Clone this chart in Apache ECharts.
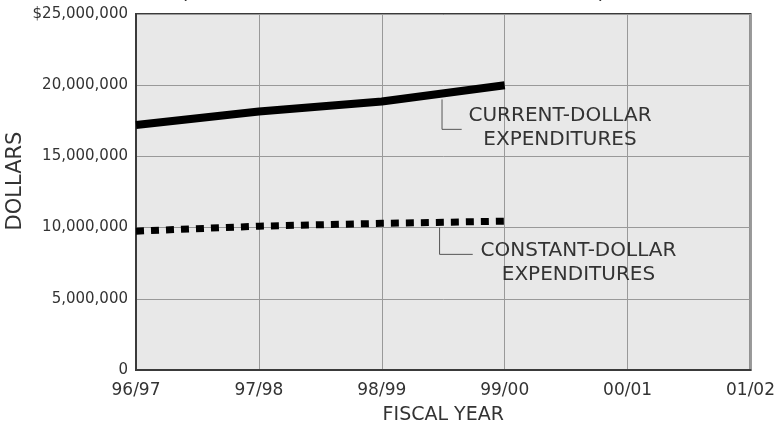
<!DOCTYPE html>
<html><head><meta charset="utf-8">
<script src="https://cdn.jsdelivr.net/npm/echarts@6/dist/echarts.min.js"></script>
<style>html,body{margin:0;padding:0;background:#fff}#c{width:778px;height:430px}</style>
</head><body><div id="c"></div>
<script>
const categories = ['96/97', '97/98', '98/99', '99/00', '00/01', '01/02'];
const currentDollar = [17200000, 18150000, 18850000, 20000000, null, null];
const constantDollar = [9750000, 10100000, 10300000, 10450000, null, null];
const yMin = 0, yMax = 25000000, yStep = 5000000;
const currentLabel = 'CURRENT-DOLLAR\nEXPENDITURES';
const constantLabel = 'CONSTANT-DOLLAR\nEXPENDITURES';
const yName = 'DOLLARS';
const xName = 'FISCAL YEAR';
const topNote = '(IN CURRENT AND CONSTANT DOLLARS)';

const FONT = 'DejaVu Sans';
const TXT = '#333';
function fmt(v){ const s = String(v).replace(/\B(?=(\d{3})+(?!\d))/g, ','); return v === yMax ? '$' + s : s; }

const chart = echarts.init(document.getElementById('c'), null, {renderer: 'canvas'});
chart.setOption({
  animation: false,
  backgroundColor: '#fff',
  grid: {left: 136, right: 22, top: 14, bottom: 59, show: true, backgroundColor: '#e8e8e8', borderColor: '#3a3a3a', borderWidth: 2},
  xAxis: {
    type: 'category', data: categories, boundaryGap: false,
    name: xName, nameLocation: 'middle', nameGap: 36,
    nameTextStyle: {fontFamily: FONT, fontSize: 19, color: TXT},
    axisLine: {show: true, lineStyle: {color: '#3a3a3a', width: 2}},
    axisTick: {show: false},
    axisLabel: {fontFamily: FONT, fontSize: 17, color: TXT, margin: 12, showMaxLabel: true, showMinLabel: true, interval: 0},
    splitLine: {show: true, lineStyle: {color: '#999', width: 1}}
  },
  yAxis: {
    type: 'value', min: yMin, max: yMax, interval: yStep,
    axisLine: {show: true, lineStyle: {color: '#3a3a3a', width: 2}},
    axisTick: {show: false},
    axisLabel: {fontFamily: FONT, fontSize: 15, color: TXT, margin: 8, formatter: fmt},
    splitLine: {show: true, lineStyle: {color: '#999', width: 1}}
  },
  series: [
    {type: 'line', data: currentDollar, symbol: 'none', lineStyle: {color: '#000', width: 8, cap: 'butt'}, z: 5},
    {type: 'line', data: constantDollar, symbol: 'none', lineStyle: {color: '#000', width: 7, type: [8, 7], cap: 'butt'}, z: 5}
  ]
});

function xAt(f){ const a = chart.convertToPixel({xAxisIndex: 0}, 0); const b = chart.convertToPixel({xAxisIndex: 0}, 1); return a + f * (b - a); }
function yAt(v){ return chart.convertToPixel({yAxisIndex: 0}, v); }

function leader(fx, vTop, vBot, fx2){
  return {type: 'polyline', z: 10, shape: {points: [[xAt(fx), yAt(vTop)], [xAt(fx), yAt(vBot)], [xAt(fx2), yAt(vBot)]]}, style: {stroke: '#555', lineWidth: 1, fill: null}};
}
function label(text, fx, v){
  return {type: 'text', z: 10, x: xAt(fx), y: yAt(v), style: {text: text, fontFamily: FONT, fontSize: 20, fill: TXT, align: 'center', verticalAlign: 'middle', lineHeight: 24}};
}

chart.setOption({graphic: [
  leader(2.49, 19000000, 16900000, 2.65),
  label(currentLabel, 3.45, 17000000),
  leader(2.47, 10000000, 8120000, 2.74),
  label(constantLabel, 3.6, 7530000),
  {type: 'text', z: 10, x: 16, y: 181, rotation: Math.PI / 2, style: {text: yName, fontFamily: FONT, fontSize: 21, fill: TXT, align: 'center', verticalAlign: 'middle'}},
  {type: 'text', z: 10, x: 393, y: -7, style: {text: topNote, fontFamily: FONT, fontSize: 21, fill: TXT, align: 'center', verticalAlign: 'middle'}}
]});
</script></body></html>
